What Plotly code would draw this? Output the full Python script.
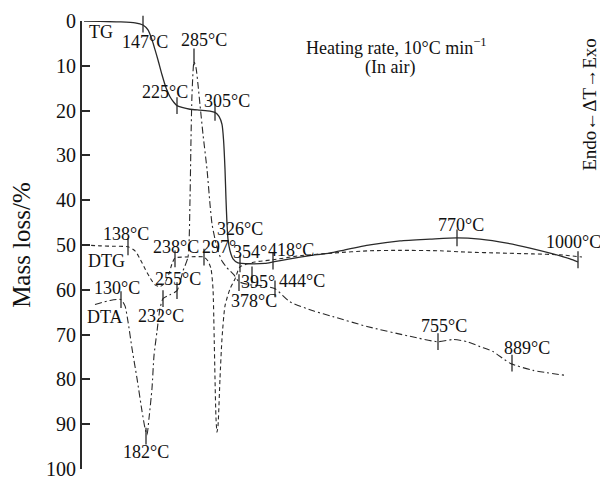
import plotly.graph_objects as go

# Horizontal position (arbitrary temperature-like scale, axis hidden) and mass-loss/% values
tg_x = [4, 36, 76, 106, 122, 132, 140, 146, 152, 160, 168, 176, 184, 190, 200, 216, 236, 256, 266, 274,
        280, 283, 286, 288, 290, 292, 296, 302, 312, 336, 366, 382, 416, 456, 496, 526, 576, 636, 696,
        750, 796, 850, 896, 942, 976, 992]
tg_y = [0, 0.1, 0.2, 0.4, 0.9, 2.0, 4.2, 6.4, 8.7, 12.0, 14.9, 16.9, 18.2, 18.9, 19.3, 19.7, 19.9, 20.1,
        20.4, 21.3, 23.1, 26.4, 33.1, 39.8, 45.3, 48.7, 51.3, 53.1, 54.0, 54.2, 54.1, 53.8, 53.1, 52.4,
        51.8, 51.1, 50.0, 49.1, 48.7, 48.4, 48.7, 49.6, 50.7, 52.0, 53.1, 53.8]

dtg_x = [4, 36, 66, 92, 106, 116, 126, 136, 146, 156, 166, 174, 180, 186, 206, 226, 244, 252, 258, 262,
         264, 266, 268, 270, 272, 276, 280, 286, 296, 306, 316, 346, 382, 436, 502, 576, 636, 716, 770,
         836, 902, 956, 1000]
dtg_y = [50.0, 50.2, 50.3, 50.4, 51.3, 53.1, 55.3, 57.3, 58.9, 59.3, 58.4, 56.4, 54.2, 52.9, 52.7, 52.6,
         52.7, 53.6, 55.3, 59.8, 68.7, 79.8, 88.7, 91.8, 90.4, 79.8, 70.9, 63.6, 59.8, 57.6, 54.9, 53.8,
         53.3, 52.4, 51.8, 51.3, 51.2, 51.3, 51.6, 51.8, 52.0, 52.2, 52.7]

dta_x = [26, 56, 78, 86, 92, 100, 110, 120, 126, 130, 134, 140, 144, 150, 156, 162, 176, 190, 202, 212,
         216, 218, 220, 224, 228, 232, 236, 242, 250, 256, 260, 266, 272, 280, 290, 304, 314, 336, 360,
         386, 416, 462, 502, 570, 656, 712, 742, 770, 796, 822, 856, 902, 966]
dta_y = [63.3, 62.4, 62.2, 63.6, 67.1, 73.1, 79.8, 87.1, 90.9, 92.4, 88.7, 82.0, 74.7, 69.3, 64.2, 62.0,
         61.1, 60.2, 55.8, 52.7, 39.8, 26.4, 16.4, 9.1, 10.4, 14.2, 18.7, 25.3, 33.1, 40.9, 45.3, 48.7,
         51.3, 53.6, 55.1, 56.7, 58.2, 58.9, 59.1, 59.8, 62.7, 64.7, 66.0, 68.2, 70.4, 71.6, 71.1, 71.6,
         72.7, 73.8, 76.4, 78.0, 79.1]

# Characteristic-point tick marks
mark_x = [122, 190, 266, 750, 992, 92, 186, 244, 316, 382, 78, 128, 162, 190, 224, 314, 340, 386, 712, 860]
mark_y = [0.7, 18.9, 20.4, 48.4, 53.3, 50.4, 53.1, 52.7, 54.2, 53.6, 62.2, 92.7, 62.0, 60.2, 8.0, 58.4,
          56.7, 59.8, 71.6, 76.4]

# Text labels
label_text = ["TG", "147°C", "285°C", "225°C", "305°C", "326°C", "770°C", "1000°C", "138°C", "DTG",
              "238°C", "297°", "354°", "418°C", "255°C", "395°", "444°C", "378°C", "130°C", "DTA",
              "232°C", "182°C", "755°C", "889°C"]
label_x = [38, 126, 244, 166, 290, 316, 758, 982, 88, 48, 188, 274, 336, 418, 192, 352, 440, 344, 70, 46,
           158, 128, 724, 890]
label_y = [2.4, 4.7, 4.2, 15.8, 17.8, 46.4, 45.6, 49.3, 47.6, 53.6, 50.4, 50.4, 51.6, 51.1, 57.6, 58.2,
           58.0, 62.4, 59.6, 66.0, 65.8, 96.2, 68.2, 73.1]

y_ticks = [0, 10, 20, 30, 40, 50, 60, 70, 80, 90, 100]

FONT = "Liberation Serif, Times New Roman, serif"
INK = "#2a2a2a"

fig = go.Figure()
fig.add_trace(go.Scatter(x=tg_x, y=tg_y, mode="lines", line=dict(color=INK, width=1.3, shape="spline", smoothing=0.6),
                         cliponaxis=False, showlegend=False))
fig.add_trace(go.Scatter(x=dtg_x, y=dtg_y, mode="lines",
                         line=dict(color=INK, width=1.1, dash="4px,3px", shape="spline", smoothing=0.6),
                         cliponaxis=False, showlegend=False))
fig.add_trace(go.Scatter(x=dta_x, y=dta_y, mode="lines",
                         line=dict(color=INK, width=1.1, dash="7px,3px,2px,3px", shape="spline", smoothing=0.6),
                         cliponaxis=False, showlegend=False))
fig.add_trace(go.Scatter(x=mark_x, y=mark_y, mode="markers",
                         marker=dict(symbol="line-ns", size=12, line=dict(color=INK, width=1.3)),
                         cliponaxis=False, showlegend=False))

annotations = []
for t, x, y in zip(label_text, label_x, label_y):
    annotations.append(dict(x=x, y=y, xref="x", yref="y", text=t, showarrow=False,
                            font=dict(family=FONT, size=18, color="#111")))
annotations.append(dict(x=628, y=5.6, xref="x", yref="y", text="Heating rate, 10°C min<sup>−1</sup>",
                        showarrow=False, font=dict(family=FONT, size=18, color="#111")))
annotations.append(dict(x=616, y=10.4, xref="x", yref="y", text="(In air)",
                        showarrow=False, font=dict(family=FONT, size=18, color="#111")))
annotations.append(dict(x=1016, y=18.7, xref="x", yref="y", text="Endo←ΔT→Exo", textangle=-90,
                        showarrow=False, font=dict(family=FONT, size=19, color="#111")))

fig.update_layout(
    width=600, height=471,
    margin=dict(l=74, r=0, t=13, b=10, autoexpand=False),
    paper_bgcolor="white", plot_bgcolor="white",
    annotations=annotations,
    xaxis=dict(visible=False, range=[0, 1052], automargin=False),
    yaxis=dict(range=[100.02, 0], tickvals=y_ticks, ticks="inside", ticklen=8, tickwidth=1.5, tickcolor=INK,
               showline=True, linewidth=2, linecolor=INK, showgrid=False, zeroline=False, automargin=False,
               ticklabeloverflow="allow",
               tickfont=dict(family=FONT, size=20, color="#111"),
               title=dict(text="Mass loss/%", font=dict(family=FONT, size=25, color="#111"), standoff=26)),
)

fig.write_html("out.html")
